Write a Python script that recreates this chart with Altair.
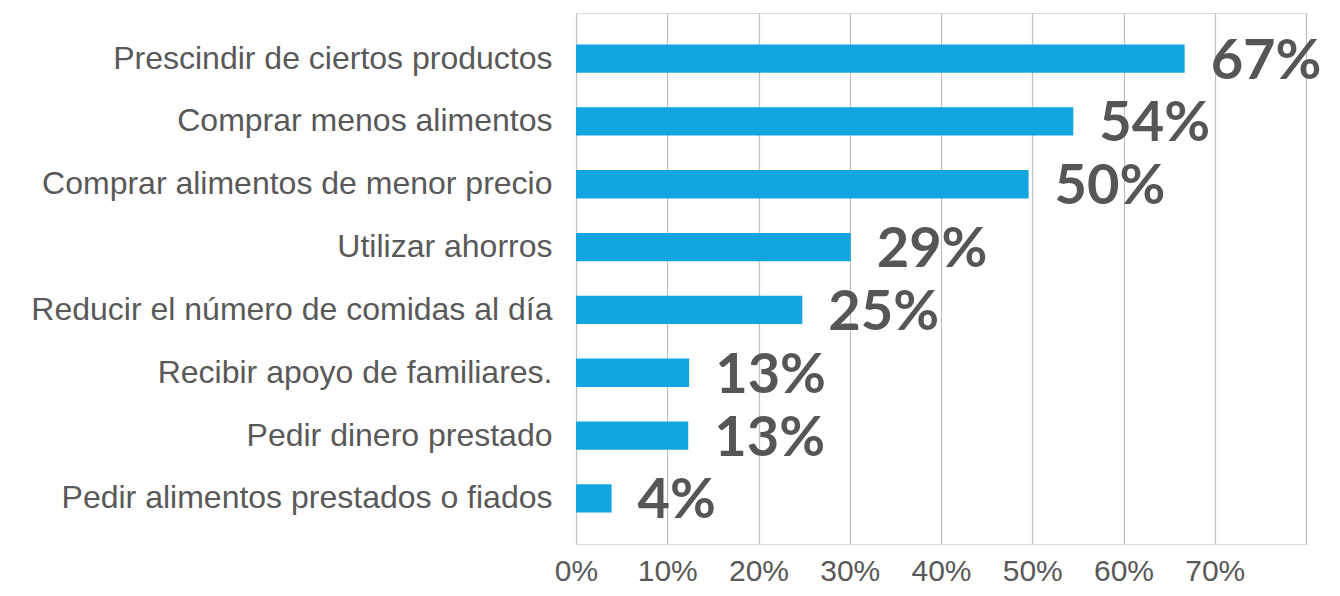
import altair as alt
import pandas as pd

categories = [
    "Prescindir de ciertos productos",
    "Comprar menos alimentos",
    "Comprar alimentos de menor precio",
    "Utilizar ahorros",
    "Reducir el número de comidas al día",
    "Recibir apoyo de familiares.",
    "Pedir dinero prestado",
    "Pedir alimentos prestados o fiados",
]
values = [66.7, 54.5, 49.6, 30.1, 24.8, 12.4, 12.3, 3.9]
labels = ["67%", "54%", "50%", "29%", "25%", "13%", "13%", "4%"]

df = pd.DataFrame({"cat": categories, "val": values, "lab": labels})

y = alt.Y("cat:N", sort=categories, title=None,
          scale=alt.Scale(paddingInner=0.55, paddingOuter=0.5),
          axis=alt.Axis(labelFont="Liberation Sans", labelFontSize=32,
                        labelColor="#595959", labelPadding=24, ticks=False,
                        domain=False, labelLimit=700))
x = alt.X("val:Q", title=None,
          scale=alt.Scale(domain=[0, 80], nice=False),
          axis=alt.Axis(values=[0, 10, 20, 30, 40, 50, 60, 70, 80],
                        labelExpr="datum.value >= 80 ? '' : datum.value + '%'",
                        labelFont="Liberation Sans", labelFontSize=30,
                        labelColor="#595959", labelPadding=12, ticks=False,
                        labelFlush=False,
                        domain=False, grid=True, gridColor="#bfbfbf",
                        gridWidth=1.2))

bars = alt.Chart(df).mark_bar(color="#12A5E0").encode(x=x, y=y)
text = alt.Chart(df).mark_text(align="left", baseline="middle", dx=26, dy=3,
                               font="Lato", fontWeight="bold", fontSize=56,
                               color="#555657").encode(
    x=alt.X("val:Q"), y=alt.Y("cat:N", sort=categories), text="lab:N")

chart = (bars + text).properties(
    width=730, height=531,
    padding={"left": 22, "top": 5, "right": 5, "bottom": 5},
).configure_view(stroke=None).configure(background="white")

chart.save("out.html", embed_options={"renderer": "svg", "actions": False})
